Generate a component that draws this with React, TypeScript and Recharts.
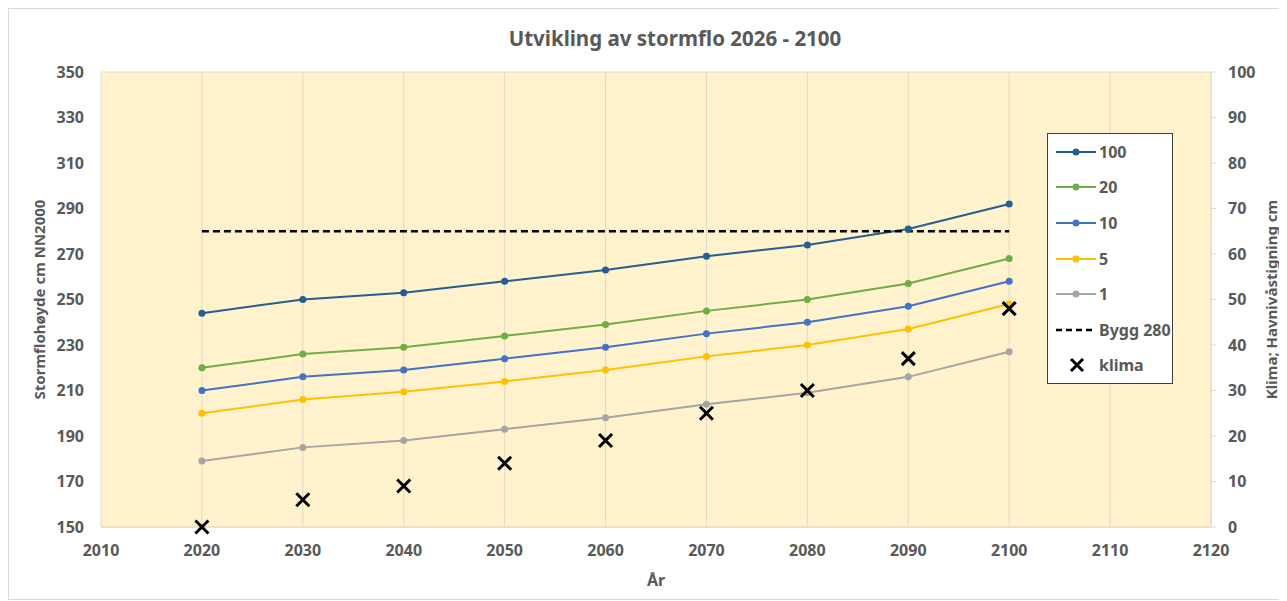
import React from "react";
import {
  CartesianGrid,
  Label,
  Legend,
  Line,
  LineChart,
  XAxis,
  YAxis,
} from "recharts";

const years = [2020, 2030, 2040, 2050, 2060, 2070, 2080, 2090, 2100];
const s100 = [244, 250, 253, 258, 263, 269, 274, 281, 292];
const s20 = [220, 226, 229, 234, 239, 245, 250, 257, 268];
const s10 = [210, 216, 219, 224, 229, 235, 240, 247, 258];
const s5 = [200, 206, 209.5, 214, 219, 225, 230, 237, 248];
const s1 = [179, 185, 188, 193, 198, 204, 209, 216, 227];
const bygg = [280, 280, 280, 280, 280, 280, 280, 280, 280];
const klima = [0, 6, 9, 14, 19, 25, 30, 37, 48];

const xTicks = [2010, 2020, 2030, 2040, 2050, 2060, 2070, 2080, 2090, 2100, 2110, 2120];
const leftTicks = [150, 170, 190, 210, 230, 250, 270, 290, 310, 330, 350];
const rightTicks = [0, 10, 20, 30, 40, 50, 60, 70, 80, 90, 100];

const data = years.map((year, i) => ({
  year,
  s100: s100[i],
  s20: s20[i],
  s10: s10[i],
  s5: s5[i],
  s1: s1[i],
  bygg: bygg[i],
  klima: klima[i],
}));

const FONT = "'Noto Sans', sans-serif";
const TEXT = "#595959";
const GRID = "#E3DAC4";

const tickStyle = { fill: TEXT, fontSize: 16, fontWeight: 700, fontFamily: FONT };

const series = [
  { key: "s100", name: "100", color: "#255E91" },
  { key: "s20", name: "20", color: "#70AD47" },
  { key: "s10", name: "10", color: "#4472C4" },
  { key: "s5", name: "5", color: "#FFC000" },
  { key: "s1", name: "1", color: "#A5A5A5" },
];

// legend rows in the order the reference shows them
const legendRows = [
  ...series.map((s) => ({ key: s.key, name: s.name, color: s.color })),
  { key: "bygg", name: "Bygg 280", color: "#000" },
  { key: "klima", name: "klima", color: "#000" },
];

const Cross = (props: any) => {
  const { cx, cy, index } = props;
  if (cx == null || cy == null) return <g key={index} />;
  const s = 6.5;
  return (
    <path
      key={index}
      d={`M${cx - s},${cy - s}L${cx + s},${cy + s}M${cx + s},${cy - s}L${cx - s},${cy + s}`}
      stroke="#000"
      strokeWidth={3}
    />
  );
};

const LegendBox = () => (
  <div
    style={{
      width: 126,
      height: 251,
      border: "1px solid #404040",
      background: "#fff",
      boxSizing: "border-box",
      fontFamily: FONT,
      fontWeight: 700,
      fontSize: 16,
      color: TEXT,
    }}
  >
    {legendRows.map((row) => (
      <div
        key={row.key}
        style={{ display: "flex", alignItems: "center", height: 35.6, whiteSpace: "nowrap" }}
      >
        <svg width={51} height={16}>
          {row.key === "klima" ? (
            <path d="M23,2L35,14M35,2L23,14" stroke="#000" strokeWidth={3} />
          ) : row.key === "bygg" ? (
            <line x1={8} y1={8} x2={48} y2={8} stroke="#000" strokeWidth={2.5} strokeDasharray="6 4" />
          ) : (
            <>
              <line x1={8} y1={8} x2={48} y2={8} stroke={row.color} strokeWidth={2} />
              <circle cx={28} cy={8} r={3.5} fill={row.color} />
            </>
          )}
        </svg>
        <span>{row.name}</span>
      </div>
    ))}
  </div>
);

export default function App() {
  return (
    <div
      style={{
        position: "relative",
        width: 1273,
        height: 592,
        border: "1px solid #D9D9D9",
        boxSizing: "border-box",
        background: "#fff",
      }}
    >
      <div
        style={{
          position: "absolute",
          left: 0,
          width: 1332,
          top: 15,
          textAlign: "center",
          fontFamily: FONT,
          fontWeight: 700,
          fontSize: 20.5,
          color: TEXT,
          zIndex: 2,
        }}
      >
        Utvikling av stormflo 2026 - 2100
      </div>
      <LineChart
        width={1271}
        height={590}
        data={data}
        margin={{ top: 63, right: 0, left: 0, bottom: 0 }}
      >
        <CartesianGrid stroke={GRID} fill="#FFF2CC" fillOpacity={1} />
        <XAxis
          dataKey="year"
          type="number"
          domain={[2010, 2120]}
          ticks={xTicks}
          height={72}
          tick={tickStyle}
          tickLine={false}
          tickSize={0}
          tickMargin={18}
          axisLine={{ stroke: GRID }}
        >
          <Label
            value="År"
            position="insideBottom"
            offset={13}
            style={{ fill: TEXT, fontSize: 16, fontWeight: 700, fontFamily: FONT }}
          />
        </XAxis>
        <YAxis
          yAxisId="left"
          domain={[150, 350]}
          ticks={leftTicks}
          width={92}
          tick={tickStyle}
          tickLine={false}
          tickSize={0}
          tickMargin={17}
          axisLine={false}
        >
          <Label
            value="Stormflohøyde cm NN2000"
            angle={-90}
            position="insideLeft"
            offset={31}
            style={{ fill: TEXT, fontSize: 15, fontWeight: 700, fontFamily: FONT, textAnchor: "middle" }}
          />
        </YAxis>
        <YAxis
          yAxisId="right"
          orientation="right"
          domain={[0, 100]}
          ticks={rightTicks}
          width={69}
          tick={tickStyle}
          tickLine={{ stroke: GRID }}
          tickSize={5}
          tickMargin={12}
          axisLine={{ stroke: GRID }}
        >
          <Label
            value="Klima; Havnivåstigning cm"
            angle={-90}
            position="insideRight"
            offset={8}
            style={{ fill: TEXT, fontSize: 15, fontWeight: 700, fontFamily: FONT, textAnchor: "middle" }}
          />
        </YAxis>
        {series.map((s) => (
          <Line
            key={s.key}
            yAxisId="left"
            dataKey={s.key}
            name={s.name}
            stroke={s.color}
            strokeWidth={2}
            dot={{ r: 3.5, fill: s.color, stroke: s.color, strokeWidth: 0 }}
            activeDot={false}
            isAnimationActive={false}
          />
        ))}
        <Line
          yAxisId="left"
          dataKey="bygg"
          name="Bygg 280"
          stroke="#000"
          strokeWidth={2.5}
          strokeDasharray="7 4"
          dot={false}
          activeDot={false}
          isAnimationActive={false}
        />
        <Line
          yAxisId="right"
          dataKey="klima"
          name="klima"
          stroke="none"
          dot={Cross}
          activeDot={false}
          isAnimationActive={false}
        />
        <Legend
          layout="vertical"
          align="center"
          verticalAlign="middle"
          content={LegendBox}
          wrapperStyle={{ left: 1038, top: 124, width: 126, height: 251 }}
        />
      </LineChart>
    </div>
  );
}
